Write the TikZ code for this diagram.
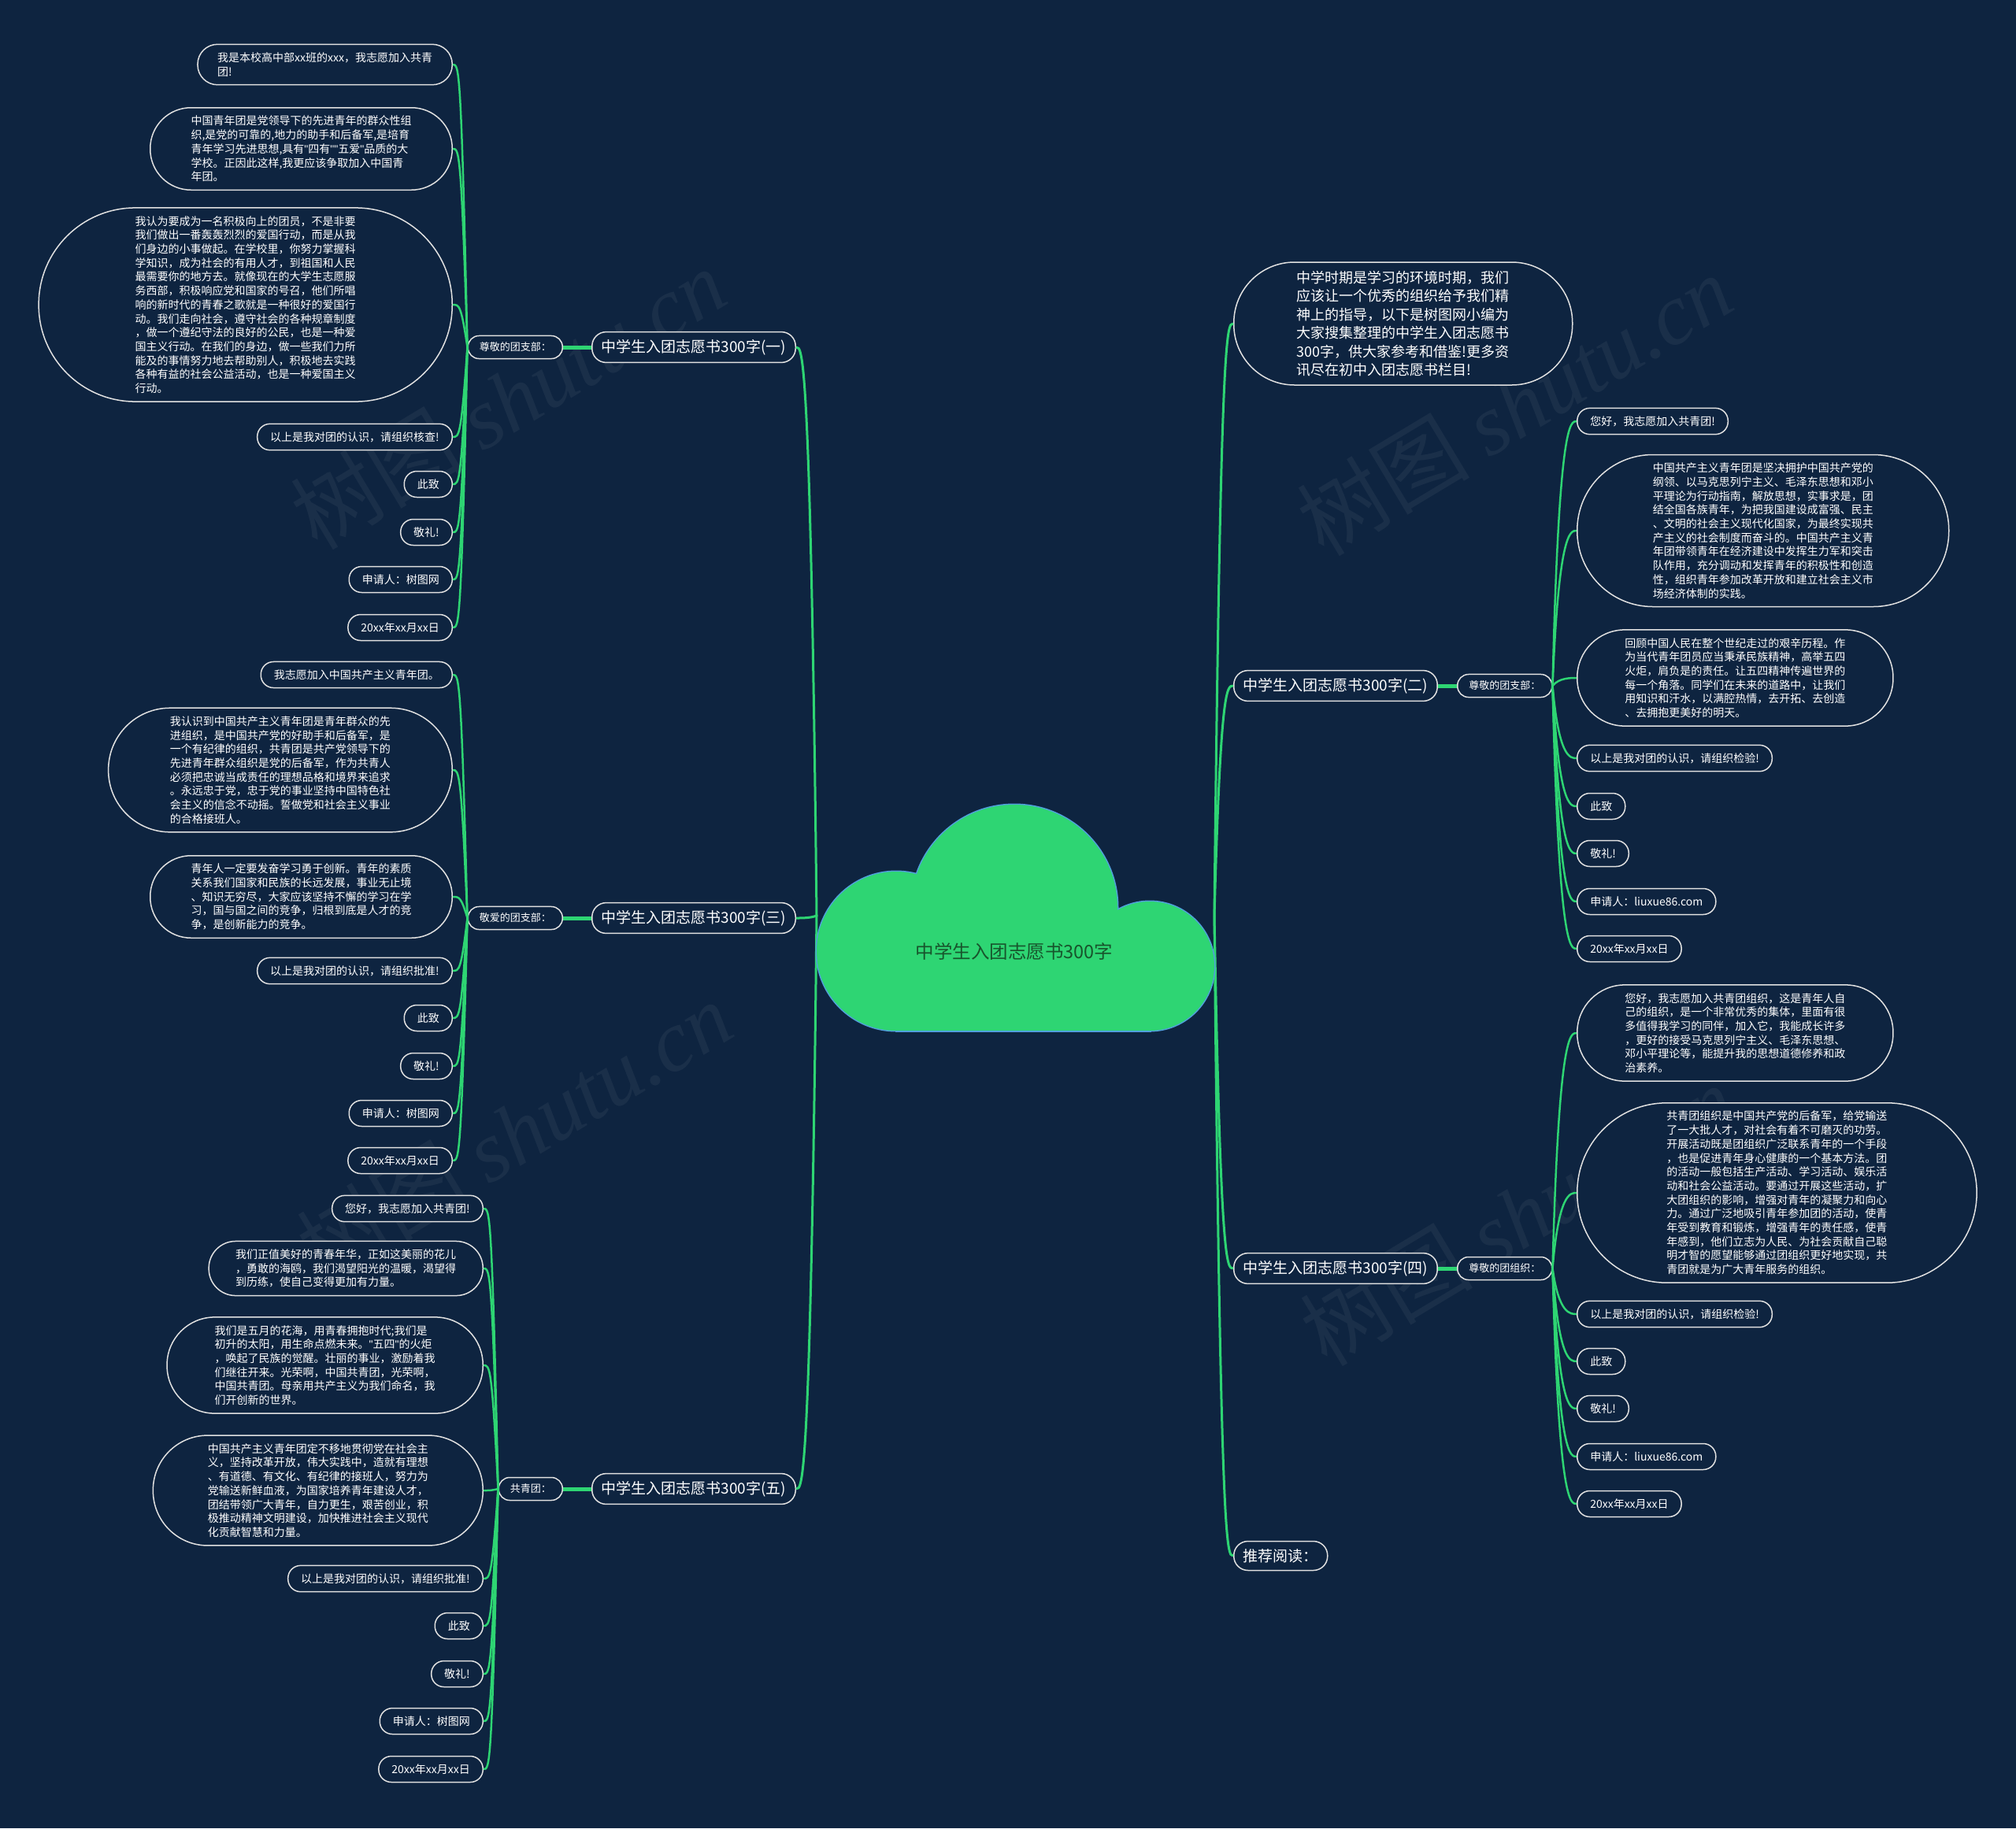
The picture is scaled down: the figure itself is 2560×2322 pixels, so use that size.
\documentclass[tikz,border=0pt]{standalone}
\usepackage{fontspec}
\setmainfont{Noto Sans CJK SC}
\newfontfamily\wmfont{Liberation Serif}
\newfontfamily\latinq{Liberation Sans}
\definecolor{bgblue}{RGB}{14,36,64}
\definecolor{linkgreen}{RGB}{46,213,115}
\definecolor{cloudgreen}{RGB}{46,213,115}
\definecolor{cloudedge}{RGB}{80,160,220}
\definecolor{roottext}{RGB}{24,84,44}
\definecolor{boxline}{RGB}{225,225,225}
\tikzset{
  box/.style={rectangle, draw=boxline, line width=1.5pt, fill=bgblue, text=white, inner ysep=10pt, align=left},
  leaf/.style={box, font=\fontsize{14}{17.7}\selectfont, rounded corners=16pt, inner xsep=16.5pt, minimum height=33pt},
  para/.style={box, font=\fontsize{14}{17.7}\selectfont,
    /utils/exec={\pgfmathsetmacro\parar{8.85*#1+7.5}},
    rounded corners=\parar pt, inner xsep=\parar pt, minimum height={2*\parar pt+1pt}},
  leadbox/.style={box, font=\fontsize{18}{23.5}\selectfont, rounded corners=77pt, inner xsep=80pt, minimum height=156pt},
  topic/.style={box, font=\fontsize{19}{23}\selectfont, inner ysep=9.5pt, rounded corners=18pt, inner xsep=12pt, minimum height=37pt},
  greet/.style={box, font=\fontsize{13}{16}\selectfont, inner ysep=8.5pt, rounded corners=14pt, inner xsep=14.5pt, minimum height=29pt},
  link/.style={draw=linkgreen, line width=2.5pt},
  trunk/.style={draw=linkgreen, line width=3pt},
  stem/.style={draw=linkgreen, line width=5pt},
  lft/.style={to path={.. controls ([xshift=-8pt]\tikztostart |- \tikztotarget) and ([xshift=8pt]\tikztotarget) .. (\tikztotarget)}},
  rgt/.style={to path={.. controls ([xshift=8pt]\tikztostart |- \tikztotarget) and ([xshift=-8pt]\tikztotarget) .. (\tikztotarget)}},
  wmark/.style={text=white, opacity=0.05, rotate=31, font=\fontsize{110}{110}\selectfont}
}

\begin{document}
\begin{tikzpicture}[x=1pt,y=-1pt]
  \useasboundingbox (0,0) rectangle (2560,2322);
  \fill[bgblue] (0,0) rectangle (2560,2322);
  \foreach \x/\y [count=\i] in {645/506,1923/514,653/1437,1927/1543}
    \node[wmark] (w\i) at (\x,\y) {树图 {\wmfont\itshape shutu.cn}};

  \coordinate (cl) at (1037,1163);
  \coordinate (cr) at (1542,1163);

  % left side
  \node[topic, anchor=east] (b1) at (1011,441) {中学生入团志愿书300字(一)};
  \node[greet, anchor=east] (h1) at (715,441) {尊敬的团支部：};
  \node[para=2, anchor=east] (c1-1) at (575,82) {我是本校高中部xx班的xxx，我志愿加入共青\\团!};
  \node[para=5, anchor=east] (c1-2) at (575,189) {中国青年团是党领导下的先进青年的群众性组\\织,是党的可靠的,地力的助手和后备军,是培育\\青年学习先进思想,具有{\latinq"}四有{\latinq""}五爱{\latinq"}品质的大\\学校。正因此这样,我更应该争取加入中国青\\年团。};
  \node[para=13, anchor=east] (c1-3) at (575,387) {我认为要成为一名积极向上的团员，不是非要\\我们做出一番轰轰烈烈的爱国行动，而是从我\\们身边的小事做起。在学校里，你努力掌握科\\学知识，成为社会的有用人才，到祖国和人民\\最需要你的地方去。就像现在的大学生志愿服\\务西部，积极响应党和国家的号召，他们所唱\\响的新时代的青春之歌就是一种很好的爱国行\\动。我们走向社会，遵守社会的各种规章制度\\，做一个遵纪守法的良好的公民，也是一种爱\\国主义行动。在我们的身边，做一些我们力所\\能及的事情努力地去帮助别人，积极地去实践\\各种有益的社会公益活动，也是一种爱国主义\\行动。};
  \foreach \y/\txt [count=\i from 4] in {555/以上是我对团的认识，请组织核查!,615/此致,676/敬礼!,736/申请人：树图网,797/20xx年xx月xx日}
    \node[leaf, anchor=east] (c1-\i) at (575,\y) {\txt};

  \node[topic, anchor=east] (b3) at (1011,1166) {中学生入团志愿书300字(三)};
  \node[greet, anchor=east] (h3) at (715,1166) {敬爱的团支部：};
  \node[leaf, anchor=east] (c3-1) at (575,857) {我志愿加入中国共产主义青年团。};
  \node[para=8, anchor=east] (c3-2) at (575,978) {我认识到中国共产主义青年团是青年群众的先\\进组织，是中国共产党的好助手和后备军，是\\一个有纪律的组织，共青团是共产党领导下的\\先进青年群众组织是党的后备军，作为共青人\\必须把忠诚当成责任的理想品格和境界来追求\\。永远忠于党，忠于党的事业坚持中国特色社\\会主义的信念不动摇。誓做党和社会主义事业\\的合格接班人。};
  \node[para=5, anchor=east] (c3-3) at (575,1139) {青年人一定要发奋学习勇于创新。青年的素质\\关系我们国家和民族的长远发展，事业无止境\\、知识无穷尽，大家应该坚持不懈的学习在学\\习，国与国之间的竞争，归根到底是人才的竞\\争，是创新能力的竞争。};
  \foreach \y/\txt [count=\i from 4] in {1233/以上是我对团的认识，请组织批准!,1293/此致,1354/敬礼!,1414/申请人：树图网,1474/20xx年xx月xx日}
    \node[leaf, anchor=east] (c3-\i) at (575,\y) {\txt};

  \node[topic, anchor=east] (b5) at (1011,1891) {中学生入团志愿书300字(五)};
  \node[greet, anchor=east] (h5) at (715,1891) {共青团：};
  \node[leaf, anchor=east] (c5-1) at (614,1535) {您好，我志愿加入共青团!};
  \node[para=3, anchor=east] (c5-2) at (614,1611) {我们正值美好的青春年华，正如这美丽的花儿\\，勇敢的海鸥，我们渴望阳光的温暖，渴望得\\到历练，使自己变得更加有力量。};
  \node[para=6, anchor=east] (c5-3) at (614,1734) {我们是五月的花海，用青春拥抱时代;我们是\\初升的太阳，用生命点燃未来。{\latinq"}五四{\latinq"}的火炬\\，唤起了民族的觉醒。壮丽的事业，激励着我\\们继往开来。光荣啊，中国共青团，光荣啊，\\中国共青团。母亲用共产主义为我们命名，我\\们开创新的世界。};
  \node[para=7, anchor=east] (c5-4) at (614,1893) {中国共产主义青年团定不移地贯彻党在社会主\\义，坚持改革开放，伟大实践中，造就有理想\\、有道德、有文化、有纪律的接班人，努力为\\党输送新鲜血液，为国家培养青年建设人才，\\团结带领广大青年，自力更生，艰苦创业，积\\极推动精神文明建设，加快推进社会主义现代\\化贡献智慧和力量。};
  \foreach \y/\txt [count=\i from 5] in {2005/以上是我对团的认识，请组织批准!,2065/此致,2126/敬礼!,2186/申请人：树图网,2247/20xx年xx月xx日}
    \node[leaf, anchor=east] (c5-\i) at (614,\y) {\txt};

  % right side
  \node[leadbox, anchor=west] (lead) at (1566,411) {中学时期是学习的环境时期，我们\\应该让一个优秀的组织给予我们精\\神上的指导，以下是树图网小编为\\大家搜集整理的中学生入团志愿书\\300字，供大家参考和借鉴!更多资\\讯尽在初中入团志愿书栏目!};

  \node[topic, anchor=west] (b2) at (1566,871) {中学生入团志愿书300字(二)};
  \node[greet, anchor=west] (h2) at (1850,871) {尊敬的团支部：};
  \node[leaf, anchor=west] (c2-1) at (2002,535) {您好，我志愿加入共青团!};
  \node[para=10, anchor=west] (c2-2) at (2002,674) {中国共产主义青年团是坚决拥护中国共产党的\\纲领、以马克思列宁主义、毛泽东思想和邓小\\平理论为行动指南，解放思想，实事求是，团\\结全国各族青年，为把我国建设成富强、民主\\、文明的社会主义现代化国家，为最终实现共\\产主义的社会制度而奋斗的。中国共产主义青\\年团带领青年在经济建设中发挥生力军和突击\\队作用，充分调动和发挥青年的积极性和创造\\性，组织青年参加改革开放和建立社会主义市\\场经济体制的实践。};
  \node[para=6, anchor=west] (c2-3) at (2002,861) {回顾中国人民在整个世纪走过的艰辛历程。作\\为当代青年团员应当秉承民族精神，高举五四\\火炬，肩负是的责任。让五四精神传遍世界的\\每一个角落。同学们在未来的道路中，让我们\\用知识和汗水，以满腔热情，去开拓、去创造\\、去拥抱更美好的明天。};
  \foreach \y/\txt [count=\i from 4] in {963/以上是我对团的认识，请组织检验!,1024/此致,1084/敬礼!,1145/申请人：liuxue86.com,1205/20xx年xx月xx日}
    \node[leaf, anchor=west] (c2-\i) at (2002,\y) {\txt};

  \node[topic, anchor=west] (b4) at (1566,1611) {中学生入团志愿书300字(四)};
  \node[greet, anchor=west] (h4) at (1850,1611) {尊敬的团组织：};
  \node[para=6, anchor=west] (c4-1) at (2002,1312) {您好，我志愿加入共青团组织，这是青年人自\\己的组织，是一个非常优秀的集体，里面有很\\多值得我学习的同伴，加入它，我能成长许多\\，更好的接受马克思列宁主义、毛泽东思想、\\邓小平理论等，能提升我的思想道德修养和政\\治素养。};
  \node[para=12, anchor=west] (c4-2) at (2002,1515) {共青团组织是中国共产党的后备军，给党输送\\了一大批人才，对社会有着不可磨灭的功劳。\\开展活动既是团组织广泛联系青年的一个手段\\，也是促进青年身心健康的一个基本方法。团\\的活动一般包括生产活动、学习活动、娱乐活\\动和社会公益活动。要通过开展这些活动，扩\\大团组织的影响，增强对青年的凝聚力和向心\\力。通过广泛地吸引青年参加团的活动，使青\\年受到教育和锻炼，增强青年的责任感，使青\\年感到，他们立志为人民、为社会贡献自己聪\\明才智的愿望能够通过团组织更好地实现，共\\青团就是为广大青年服务的组织。};
  \foreach \y/\txt [count=\i from 3] in {1669/以上是我对团的认识，请组织检验!,1729/此致,1789/敬礼!,1850/申请人：liuxue86.com,1910/20xx年xx月xx日}
    \node[leaf, anchor=west] (c4-\i) at (2002,\y) {\txt};

  \node[topic, anchor=west] (rec) at (1566,1976) {推荐阅读：};

  % connectors
  \foreach \i in {1,...,8} \draw[link] (h1.west) to[lft] (c1-\i.east);
  \foreach \i in {1,...,8} \draw[link] (h3.west) to[lft] (c3-\i.east);
  \foreach \i in {1,...,9} \draw[link] (h5.west) to[lft] (c5-\i.east);
  \foreach \i in {1,...,8} \draw[link] (h2.east) to[rgt] (c2-\i.west);
  \foreach \i in {1,...,7} \draw[link] (h4.east) to[rgt] (c4-\i.west);
  \foreach \n in {1,3,5} \draw[stem] (b\n.west) -- (h\n.east);
  \foreach \n in {2,4} \draw[stem] (b\n.east) -- (h\n.west);
  \foreach \n in {b1,b3,b5} \draw[trunk] (cl) to[lft] (\n.east);
  \foreach \n in {lead,b2,b4,rec} \draw[trunk] (cr) to[rgt] (\n.west);

  % cloud
  \foreach \cx/\cy/\r in {1138/1208/101,1288/1153/131,1460/1227/82}
    \draw[cloudedge, line width=3pt] (\cx,\cy) circle[radius=\r];
  \draw[cloudedge, line width=3pt] (1138,1208) rectangle (1460,1309);
  \foreach \cx/\cy/\r in {1138/1208/101,1288/1153/131,1460/1227/82}
    \fill[cloudgreen] (\cx,\cy) circle[radius=\r];
  \fill[cloudgreen] (1138,1208) rectangle (1460,1309);
  \node[text=roottext, font=\fontsize{23.5}{28}\selectfont] (root) at (1288,1209) {中学生入团志愿书300字};
\end{tikzpicture}
\end{document}
